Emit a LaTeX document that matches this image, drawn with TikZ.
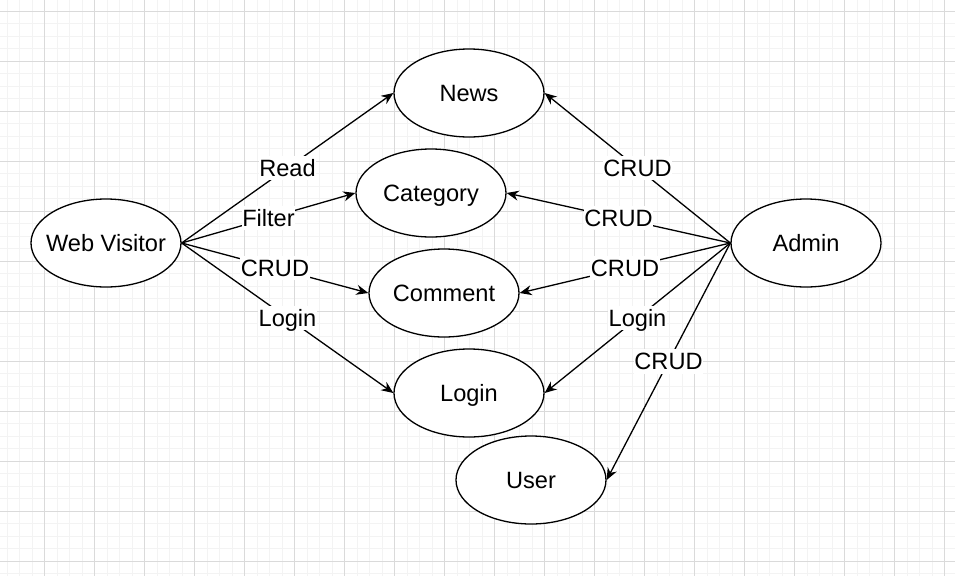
\documentclass[tikz,border=0pt]{standalone}
\usepackage{fontspec}
\setmainfont{Liberation Sans}
\usetikzlibrary{shapes.geometric,arrows.meta}
\newcommand{\lblfont}{\fontsize{23.6}{28}\selectfont}
\definecolor{gridminor}{HTML}{F3F3F3}
\definecolor{gridmajor}{HTML}{DADADA}
\begin{document}
\begin{tikzpicture}[x=1pt,y=-1pt,
  uc/.style={draw, ellipse, line width=1.3pt, minimum width=150pt, minimum height=88pt, inner sep=0pt, fill=white},
  uctext/.style={font=\lblfont, text height=16.9pt, text depth=0pt, inner sep=0pt},
  conn/.style={line width=1.3pt, -{Stealth[length=12pt,width=10pt]}},
  lbl/.style={fill=white, inner xsep=0.5pt, inner ysep=4pt, font=\lblfont, text height=16.9pt, text depth=0pt},
  minorline/.style={gridminor, line width=1pt},
  majorline/.style={gridmajor, line width=1pt}]
\useasboundingbox (0,0) rectangle (955,576);
\fill[white] (0,0) rectangle (955,576);
\begin{scope}
\clip (0,0) rectangle (955,576);
\foreach \i in {0,...,76} \draw[minorline] ({7+12.5*\i},0) -- ({7+12.5*\i},576);
\foreach \i in {-1,...,46} \draw[minorline] (0,{11.3+12.5*\i}) -- (955,{11.3+12.5*\i});
\foreach \i in {0,...,18} \draw[majorline] ({44.5+50*\i},0) -- ({44.5+50*\i},576);
\foreach \i in {0,...,11} \draw[majorline] (0,{11.3+50*\i}) -- (955,{11.3+50*\i});
\end{scope}

\node[uc, label={[uctext]center:Web Visitor}] (wv) at (106,243) {};
\node[uc, label={[uctext]center:News}] (news) at (469,93) {};
\node[uc, label={[uctext]center:Category}] (cat) at (431,193) {};
\node[uc, label={[uctext]center:Comment}] (com) at (444,293) {};
\node[uc, label={[uctext]center:Login}] (login) at (469,393) {};
\node[uc, label={[uctext]center:User}] (user) at (531,480) {};
\node[uc, label={[uctext]center:Admin}] (admin) at (806,243) {};

\draw[conn] (wv.east) -- node[lbl] (l1) {Read} (news.west);
\draw[conn] (wv.east) -- node[lbl] (l2) {Filter} (cat.west);
\draw[conn] (wv.east) -- node[lbl] (l3) {CRUD} (com.west);
\draw[conn] (wv.east) -- node[lbl] (l4) {Login} (login.west);

\draw[conn] (admin.west) -- node[lbl] (r1) {CRUD} (news.east);
\draw[conn] (admin.west) -- node[lbl] (r2) {CRUD} (cat.east);
\draw[conn] (admin.west) -- node[lbl] (r3) {CRUD} (com.east);
\draw[conn] (admin.west) -- node[lbl] (r4) {Login} (login.east);
\draw[conn] (admin.west) -- node[lbl] (r5) {CRUD} (user.east);
\end{tikzpicture}
\end{document}
